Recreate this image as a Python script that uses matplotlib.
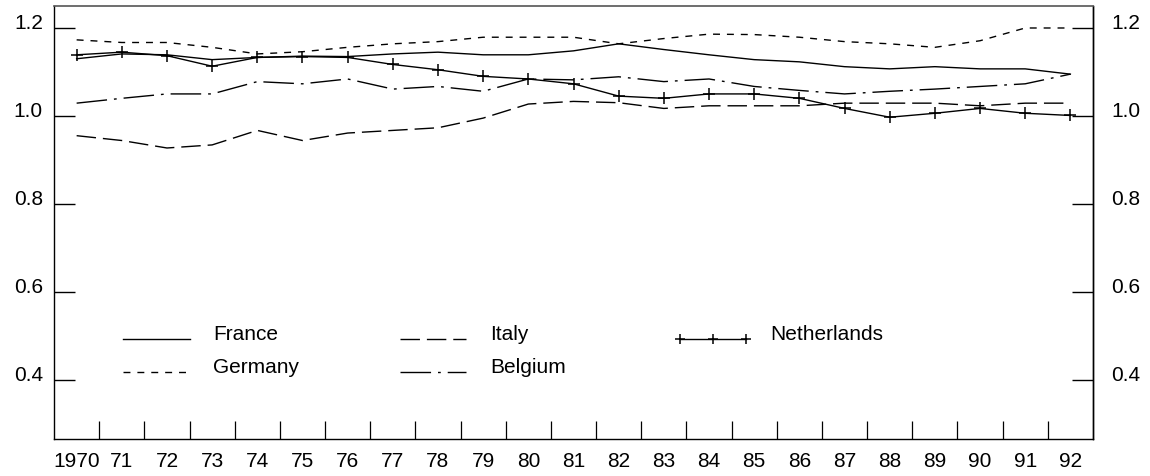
import matplotlib
matplotlib.use("Agg")
import matplotlib.pyplot as plt
from matplotlib.lines import Line2D
from matplotlib.transforms import ScaledTranslation

plt.rcParams['font.family'] = ['Liberation Sans', 'DejaVu Sans']
plt.rcParams['font.size'] = 15

years = list(range(1970, 1993))
year_labels = ['1970'] + [str(y)[2:] for y in years[1:]]

france = [1.130, 1.141, 1.139, 1.128, 1.133, 1.136, 1.135, 1.141, 1.145, 1.139, 1.139, 1.148,
          1.164, 1.151, 1.139, 1.128, 1.123, 1.112, 1.107, 1.112, 1.107, 1.107, 1.095]
germany = [1.173, 1.167, 1.167, 1.156, 1.141, 1.146, 1.156, 1.164, 1.169, 1.179, 1.179, 1.179,
           1.164, 1.176, 1.186, 1.185, 1.179, 1.169, 1.164, 1.156, 1.171, 1.200, 1.200]
italy = [0.955, 0.944, 0.927, 0.934, 0.967, 0.944, 0.961, 0.967, 0.973, 0.995, 1.027, 1.033,
         1.030, 1.017, 1.023, 1.023, 1.023, 1.029, 1.029, 1.029, 1.023, 1.029, 1.029]
belgium = [1.029, 1.040, 1.050, 1.050, 1.078, 1.073, 1.084, 1.061, 1.067, 1.056, 1.084, 1.082,
           1.089, 1.078, 1.084, 1.067, 1.058, 1.050, 1.056, 1.061, 1.067, 1.073, 1.095]
netherlands = [1.139, 1.145, 1.137, 1.113, 1.133, 1.135, 1.133, 1.117, 1.105, 1.090, 1.084, 1.073,
               1.045, 1.040, 1.050, 1.050, 1.040, 1.017, 0.997, 1.006, 1.017, 1.006, 1.001]

yticks = [0.4, 0.6, 0.8, 1.0, 1.2]

# (label, values, line style, legend column, legend row)
series = [
    ('France', france, dict(linestyle='-'), 0, 0),
    ('Germany', germany, dict(linestyle=(0, (5, 5))), 0, 1),
    ('Italy', italy, dict(linestyle=(0, (14, 5))), 1, 0),
    ('Belgium', belgium, dict(linestyle=(0, (22, 5, 2, 5))), 1, 1),
    ('Netherlands', netherlands, dict(linestyle='-', marker='+', markersize=9,
                                      markeredgewidth=1.1), 2, 0),
]

fig = plt.figure(figsize=(11.5, 4.77), dpi=100)
ax = fig.add_axes([0.047, 0.0776, 0.9034, 0.9077])

for name, vals, style, _, _ in series:
    ax.plot(years, vals, color='black', linewidth=1.0, **style)

ax.set_xlim(1969.5, 1992.5)
ax.set_ylim(0.265, 1.25)

# x: labels sit on the years, tick marks go between them
ax.set_xticks(years)
ax.set_xticklabels(year_labels)
ax.set_xticks([y + 0.5 for y in years[:-1]], minor=True)
ax.tick_params(axis='x', which='major', length=0, pad=9)
ax.tick_params(axis='x', which='minor', direction='in', length=13, width=0.9, top=False)

# left y axis
ax.set_yticks(yticks)
ax.set_yticklabels([f'{v:.1f}' for v in yticks])
ax.tick_params(axis='y', direction='in', length=15, width=1.0, right=False, pad=8)

# right y axis with its own label padding
ax_r = ax.secondary_yaxis('right')
ax_r.set_yticks(yticks)
ax_r.set_yticklabels([f'{v:.1f}' for v in yticks])
ax_r.tick_params(axis='y', direction='in', length=15, width=1.0, pad=13)
ax_r.spines['right'].set_linewidth(1.0)

# y labels sit with their baseline on the tick, so lift them a little
lift = ScaledTranslation(0, 0.07, fig.dpi_scale_trans)
for axis in (ax.yaxis, ax_r.yaxis):
    for t in axis.get_major_ticks():
        for lab in (t.label1, t.label2):
            lab.set_transform(lab.get_transform() + lift)

for side in ['left', 'right', 'bottom']:
    ax.spines[side].set_linewidth(1.0)
ax.spines['top'].set_color('#555555')
ax.spines['top'].set_linewidth(1.2)

# hand-built legend, three columns, line drawn on the text baseline
col_x = [0.0664, 0.333, 0.6025]
row_y = [0.231, 0.155]
handle_len = 0.064
for name, vals, style, col, row in series:
    x0 = col_x[col]
    y0 = row_y[row]
    hstyle = dict(style)
    if 'marker' in hstyle:
        hstyle['markersize'] = 7
        xs = [x0, x0 + handle_len / 2, x0 + handle_len]
    else:
        xs = [x0, x0 + handle_len]
    ax.add_line(Line2D(xs, [y0] * len(xs), transform=ax.transAxes, color='black',
                       linewidth=1.0, **hstyle))
    ax.text(x0 + handle_len + 0.0225, y0, name, transform=ax.transAxes,
            va='baseline', ha='left')

fig.savefig('out.png', dpi=100)
plt.close(fig)
